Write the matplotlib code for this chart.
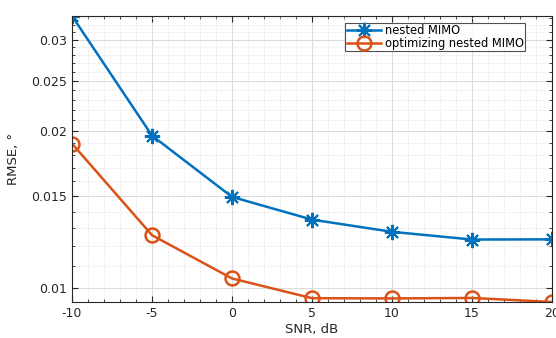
import numpy as np
import matplotlib
matplotlib.use('Agg')
import matplotlib.pyplot as plt
from matplotlib.ticker import FixedLocator, FixedFormatter, NullFormatter, MultipleLocator

# data
snr = [-10, -5, 0, 5, 10, 15, 20]
rmse_nested = [0.0333, 0.0196, 0.01494, 0.01351, 0.0128, 0.01237, 0.01238]
rmse_opt = [0.01892, 0.01261, 0.01041, 0.00954, 0.00953, 0.00955, 0.00938]
yticks = [0.01, 0.015, 0.02, 0.025, 0.03]
ytick_labels = ['0.01', '0.015', '0.02', '0.025', '0.03']

fig = plt.figure(figsize=(5.56, 3.38), dpi=100)
ax = fig.add_axes([0.1295, 0.1065, 0.8635, 0.8462])

# matlab-like asterisk marker
ax.plot(snr, rmse_nested, '-', marker=(8, 2, 0), color='#0072BD', lw=1.8,
        ms=11, mew=1.5, label='nested MIMO')
ax.plot(snr, rmse_opt, '-o', color='#D95319', lw=1.8, ms=10, mew=1.8,
        mfc='none', label='optimizing nested MIMO')

ax.set_yscale('log')
ax.set_xlim(min(snr), max(snr))
ax.set_ylim(min(rmse_opt), max(rmse_nested))

ax.set_xticks(snr)
ax.set_xticklabels([str(s) for s in snr])
ax.xaxis.set_minor_locator(MultipleLocator(1))
ax.yaxis.set_major_locator(FixedLocator(yticks))
ax.yaxis.set_major_formatter(FixedFormatter(ytick_labels))
ax.yaxis.set_minor_locator(FixedLocator(np.arange(0.009, 0.035, 0.001)))
ax.yaxis.set_minor_formatter(NullFormatter())

ax.grid(True, which='major', color='#dcdcdc', lw=0.8, ls='-')
ax.grid(True, which='minor', color='#dcdcdc', lw=0.6, ls=':')
ax.set_axisbelow(True)

ax.tick_params(which='both', direction='in', top=True, right=True,
               labelsize=9, colors='#262626')
ax.tick_params(which='major', length=4)
ax.tick_params(which='minor', length=2)
for sp in ax.spines.values():
    sp.set_color('#262626')
    sp.set_linewidth(0.8)

ax.set_xlabel('SNR, dB', fontsize=9.5, color='#262626', labelpad=2)
ax.set_ylabel('RMSE, °', fontsize=9.5, color='#262626', labelpad=8)

leg = ax.legend(loc='upper right', bbox_to_anchor=(0.948, 0.985), fontsize=8.3,
                frameon=True, fancybox=False, edgecolor='#262626',
                borderpad=0.1, labelspacing=0.0, handlelength=3.0,
                handletextpad=0.3, borderaxespad=0.2)
leg.get_frame().set_linewidth(0.8)

fig.savefig('out.png', dpi=100)
